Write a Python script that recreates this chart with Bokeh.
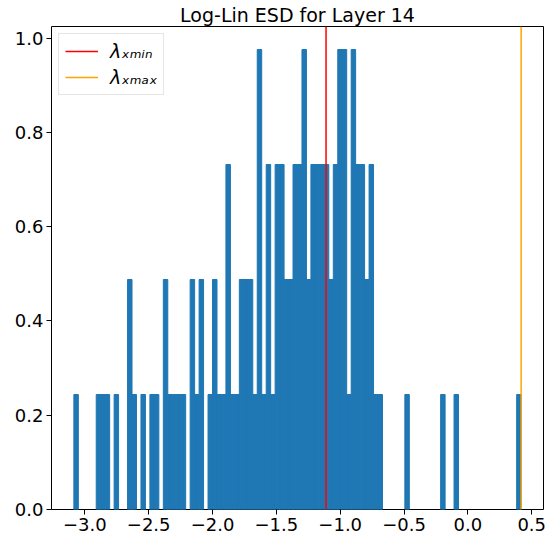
import numpy as np
from bokeh.plotting import figure
from bokeh.models import (Range1d, FixedTicker, CustomJSTickFormatter,
                          Legend, LegendItem)
from bokeh.embed import file_html
from bokeh.resources import INLINE

# ---- data ----
chart_title = "Log-Lin ESD for Layer 14"
log_ev_min = -3.086      # smallest log10 eigenvalue (left edge of histogram)
log_ev_max = 0.417       # largest log10 eigenvalue (lambda_xmax)
log_xmin = -1.111        # lambda_xmin
bin_counts = [
    1, 0, 0, 0, 0, 1, 1, 1, 0, 1,
    0, 0, 2, 1, 0, 1, 0, 1, 1, 0,
    2, 1, 1, 1, 1, 0, 2, 1, 2, 0,
    1, 2, 1, 1, 3, 1, 1, 2, 2, 2,
    1, 4, 1, 3, 1, 3, 3, 2, 2, 3,
    3, 4, 2, 3, 3, 3, 3, 2, 3, 4,
    4, 1, 4, 3, 3, 2, 3, 1, 1, 0,
    0, 0, 0, 0, 1, 0, 0, 0, 0, 0,
    0, 0, 1, 0, 0, 1, 0, 0, 0, 0,
    0, 0, 0, 0, 0, 0, 0, 0, 0, 1,
]
x_ticks = [-3.0, -2.5, -2.0, -1.5, -1.0, -0.5, 0.0, 0.5]
y_ticks = [0.0, 0.2, 0.4, 0.6, 0.8, 1.0]
legend_labels = ["λₓₘᵢₙ", "λₓₘₐₓ"]

# ---- histogram (density) ----
counts = np.array(bin_counts, dtype=float)
edges = np.linspace(log_ev_min, log_ev_max, len(bin_counts) + 1)
widths = np.diff(edges)
density = counts / (counts.sum() * widths)

span_x = log_ev_max - log_ev_min
x_lo = log_ev_min - 0.05 * span_x
x_hi = log_ev_max + 0.05 * span_x
y_hi = 1.05 * density.max()

FONT = "DejaVu Sans"

p = figure(width=551, height=538, output_backend="svg", toolbar_location=None,
           x_range=Range1d(x_lo, x_hi), y_range=Range1d(0, y_hi),
           min_border_left=51, min_border_right=8, min_border_top=26,
           min_border_bottom=29, title=chart_title)

p.title.text_font = FONT
p.title.text_font_size = "19px"
p.title.text_font_style = "normal"
p.title.text_color = "black"
p.title.align = "center"
p.title.vertical_align = "middle"
p.title.standoff = 0

keep = counts > 0
p.quad(left=edges[:-1][keep], right=edges[1:][keep], bottom=0,
       top=density[keep], fill_color="#1f77b4", line_color="#1f77b4",
       line_width=1)

r_min = p.line(x=[log_xmin, log_xmin], y=[0, y_hi],
               line_color="red", line_width=1.5)
r_max = p.line(x=[log_ev_max, log_ev_max], y=[0, y_hi],
               line_color="orange", line_width=1.5)

legend = Legend(items=[LegendItem(label=legend_labels[0], renderers=[r_min]),
                       LegendItem(label=legend_labels[1], renderers=[r_max])],
                location="top_left")
legend.margin = 7
legend.padding = 6
legend.spacing = 4
legend.glyph_width = 33
legend.glyph_height = 20
legend.label_height = 20
legend.label_standoff = 12
legend.label_text_font = FONT
legend.label_text_font_size = "19px"
legend.label_text_font_style = "italic"
legend.label_text_color = "black"
legend.border_line_color = "#cccccc"
legend.background_fill_alpha = 0.8
p.add_layout(legend)

p.xaxis.ticker = FixedTicker(ticks=x_ticks)
p.yaxis.ticker = FixedTicker(ticks=y_ticks)
p.xaxis.formatter = CustomJSTickFormatter(
    code="return tick.toFixed(1).replace('-', '\u2212');")
p.yaxis.formatter = CustomJSTickFormatter(code="return tick.toFixed(1);")

for ax in (p.xaxis, p.yaxis):
    ax.major_label_text_font = FONT
    ax.major_label_text_font_size = "18px"
    ax.major_label_text_color = "black"
    ax.major_tick_out = 5
    ax.major_tick_in = 0
    ax.minor_tick_out = 0
    ax.minor_tick_in = 0
    ax.major_tick_line_color = "black"
    ax.major_tick_line_width = 1
    ax.axis_line_color = None
    ax.major_label_standoff = 3

p.grid.grid_line_color = None
p.outline_line_color = "black"
p.outline_line_width = 1
p.background_fill_color = "white"
p.border_fill_color = "white"

open("out.html", "w").write(file_html(p, INLINE))
